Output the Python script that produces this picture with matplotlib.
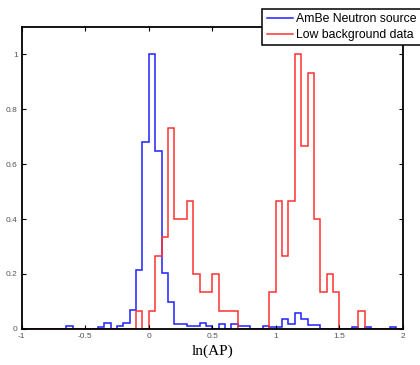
import numpy as np
import matplotlib.pyplot as plt

# bin edges of ln(AP), 0.05 wide
bin_lo = -1.0
bin_hi = 2.0
bin_width = 0.05

# AmBe neutron source, normalised counts per bin (lower edge -> height)
ambe = {
    -0.65: 0.012, -0.40: 0.008, -0.35: 0.020, -0.25: 0.012, -0.20: 0.023,
    -0.15: 0.067, -0.10: 0.216, -0.05: 0.682, 0.00: 1.000, 0.05: 0.647,
    0.10: 0.204, 0.15: 0.098, 0.20: 0.018, 0.25: 0.018, 0.30: 0.012,
    0.35: 0.012, 0.40: 0.023, 0.45: 0.012, 0.55: 0.018, 0.65: 0.018,
    0.70: 0.011, 0.75: 0.011, 0.90: 0.011, 0.95: 0.008, 1.00: 0.008,
    1.05: 0.035, 1.10: 0.018, 1.15: 0.056, 1.20: 0.035, 1.25: 0.013,
    1.30: 0.013, 1.60: 0.007, 1.70: 0.007, 1.90: 0.007,
}

# low background data, raw counts per bin (peak = 15)
lowbg_counts = {
    -0.10: 1, 0.00: 1, 0.05: 4, 0.10: 5, 0.15: 11, 0.20: 6, 0.25: 6,
    0.30: 7, 0.35: 3, 0.40: 2, 0.45: 2, 0.50: 3, 0.55: 1, 0.60: 1,
    0.65: 1, 0.95: 2, 1.00: 7, 1.05: 4, 1.10: 7, 1.15: 15, 1.20: 10,
    1.25: 14, 1.30: 6, 1.35: 2, 1.40: 3, 1.45: 2, 1.65: 1,
}

xticks = [-1, -0.5, 0, 0.5, 1, 1.5, 2]
xticklabels = ["-1", "-0.5", "0", "0.5", "1", "1.5", "2"]
yticks = [0, 0.2, 0.4, 0.6, 0.8, 1]
yticklabels = ["0", "0.2", "0.4", "0.6", "0.8", "1"]

n_bins = int(round((bin_hi - bin_lo) / bin_width))
edges = np.linspace(bin_lo, bin_hi, n_bins + 1)


def to_bins(table):
    vals = np.zeros(n_bins)
    for lo, v in table.items():
        vals[int(round((lo - bin_lo) / bin_width))] = v
    return vals


ambe_vals = to_bins(ambe)
lowbg_vals = to_bins(lowbg_counts)
lowbg_vals = lowbg_vals / lowbg_vals.max()

fig = plt.figure(figsize=(4.2, 3.65), dpi=100)
ax = fig.add_axes([0.052, 0.099, 0.907, 0.827])

ax.stairs(ambe_vals, edges, color="#2020ff", linewidth=1.1,
          label="AmBe Neutron source")
ax.stairs(lowbg_vals, edges, color="#ff3030", linewidth=1.1,
          label="Low background data")

ax.set_xlim(-1, 2)
ax.set_ylim(0, 1.1)
ax.set_xticks(xticks)
ax.set_xticklabels(xticklabels)
ax.set_yticks(yticks)
ax.set_yticklabels(yticklabels)
ax.tick_params(direction="in", top=True, right=True, length=3,
               width=0.8, labelsize=6, labelcolor="#555555", pad=3)
for lab in ax.get_xticklabels() + ax.get_yticklabels():
    lab.set_family("Liberation Sans")
for s in ax.spines.values():
    s.set_linewidth(1.3)

ax.set_xlabel("ln(AP)", family="Liberation Serif", fontsize=11, labelpad=3)

leg = fig.legend(loc="upper left", bbox_to_anchor=(0.624, 0.976),
                 prop={"family": "Liberation Sans", "size": 8.8},
                 frameon=True, fancybox=False, edgecolor="black",
                 framealpha=1, handlelength=2.13, handletextpad=0.25,
                 borderpad=0.37, labelspacing=0.3, borderaxespad=0)
leg.get_frame().set_linewidth(1.1)

fig.savefig("out.png", dpi=100)
